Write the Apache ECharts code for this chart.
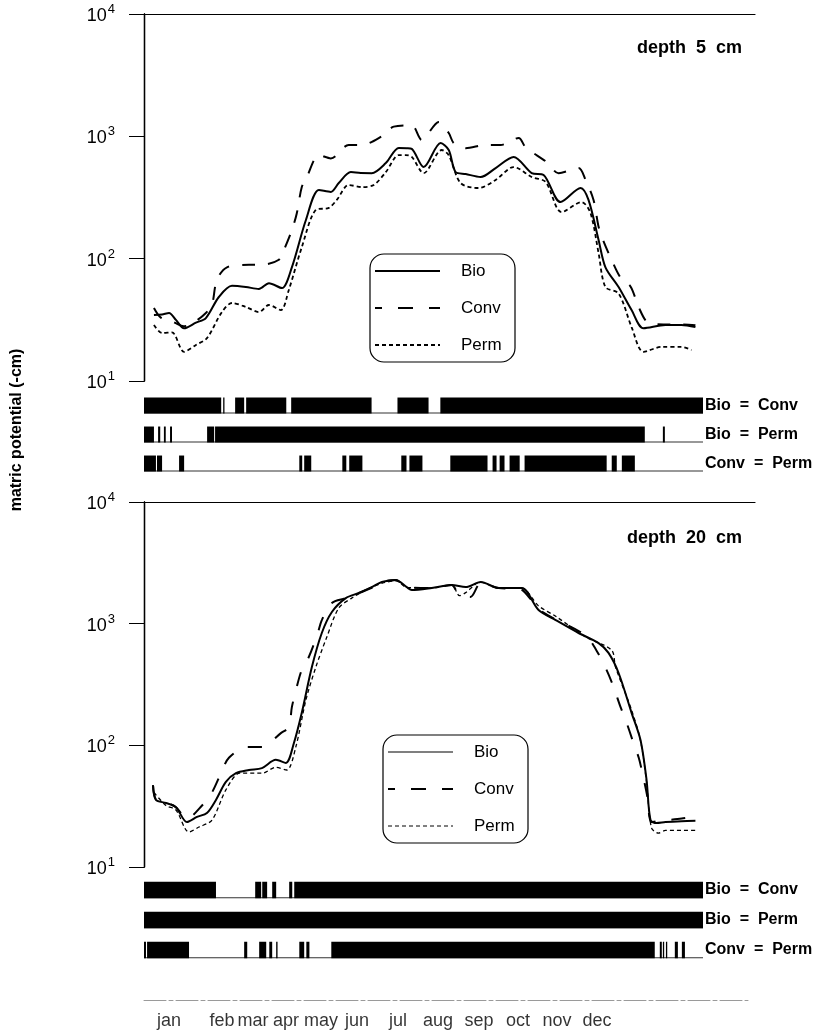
<!DOCTYPE html>
<html><head><meta charset="utf-8">
<script src="https://cdn.jsdelivr.net/npm/echarts@6/dist/echarts.min.js"></script>
<style>html,body{margin:0;padding:0;background:#fff}#c{width:825px;height:1033px}</style>
</head><body><div id="c"></div>
<script>
// ---- data: x = day of year, y = matric potential (-cm) ----
const bio5 = [[6.5,34.6],[11.8,35],[16.4,36],[20.9,31.6],[26.2,27],[34,30],[40.5,32.7],[49,48.6],[57.6,60],[66.7,58.7],[75.2,56.5],[81.8,63],[90.3,57.5],[96.8,85],[106,207],[114.5,364],[122.3,351],[127.5,415],[135.4,510],[141.9,501],[149.1,500],[158.3,605],[166.8,803],[172,800],[175.3,790],[183.1,561],[194.2,881],[199.5,773],[204,511],[210.6,492],[220.4,465],[230.2,550],[242,678],[253.8,501],[261.6,483],[272.7,290],[285.8,378],[291,302],[297.6,142],[302.1,85],[310.7,58.6],[319.2,38],[327,27],[341.4,28.7],[351.9,28.7],[361,27.6]];
const conv5 = [[6.5,39.5],[11,33],[20,30],[26,28],[34,31],[40.5,36],[44.5,42],[47.7,67],[54.3,85],[68.7,89],[77.2,89],[88.3,98],[91.6,118],[96.8,171],[100,234],[103.3,385],[106.6,465],[114.5,703],[122.3,660],[134,850],[142.5,850],[155.6,1000],[163.5,1200],[175.3,1230],[181.8,935],[193,1310],[199.5,1065],[202.8,880],[210.6,800],[223.8,850],[233.5,850],[245.3,970],[249.9,810],[263.6,617],[271.4,500],[284.5,550],[289.1,440],[294.3,302],[297.6,182],[300.5,142],[306.1,98],[312,70],[318.6,59],[323.9,40],[330,30],[340,29],[352,29],[361,28.5]];
const perm5 = [[6.5,28.7],[11.8,24.7],[18.3,25],[26.2,17.3],[34,19.7],[41.2,22.4],[51,36.6],[57.6,43.4],[66.7,40.3],[75.2,36.6],[81.8,41.8],[89.6,38],[94.8,55.5],[103.3,124],[112.5,250],[121,260],[126.2,302],[134,400],[142.6,385],[150.4,400],[158.3,510],[166.8,703],[171.4,703],[175.3,680],[183.1,500],[194.9,773],[199.5,700],[207.3,415],[219.1,378],[230.2,440],[242,561],[253.8,465],[262.9,424],[273.4,240],[286.5,290],[292.3,236],[297.6,111],[302.1,58.6],[310.7,52],[319.2,27.6],[327,17.3],[338.8,19],[351.9,19],[358.4,17.9]];

const bio20 = [[5.9,47],[7.8,35.6],[14.4,33.6],[20.9,31],[28.1,23.4],[34.7,25.8],[41.2,27.8],[47.1,35.6],[53.6,50],[60.2,59],[68.7,62.7],[77.2,65],[86.3,76],[92.9,71.6],[98.1,104],[103.3,185],[109.9,440],[116.4,838],[123,1247],[132.1,1622],[140.6,1786],[149.1,1995],[155.7,2197],[164.8,2285],[172,1995],[175.3,1890],[188.4,1965],[201.4,2080],[210.6,2000],[220.4,2197],[232.2,1965],[247.2,1965],[258.3,1295],[269.5,1070],[284.5,838],[297.6,693],[304.1,575],[310.7,393],[319.2,185],[325,111],[329,52],[331.6,24.3],[335.5,23],[341.4,23.4],[351.9,23.8],[361,24]];
const conv20 = [[5.9,47],[7.8,36],[14.4,34],[20.9,31],[28.1,25],[38,32],[44.5,41],[50.4,59],[55.6,79],[67.4,97],[77.2,97],[89.6,126],[94.8,141],[96.8,206],[100,302],[103.3,417],[107.9,532],[113.8,838],[116.4,1070],[123,1480],[132.1,1620],[141,1790],[150,1995],[156,2197],[165,2285],[172,1995],[188,1965],[201.4,2080],[205.3,1820],[213.8,1660],[220.4,2150],[232.2,1965],[247,1900],[251.8,1660],[260.3,1260],[289.1,800],[296.3,600],[302.8,417],[307.4,302],[312,206],[315.3,162],[320.5,104],[323.9,79],[326.3,59],[329.5,38],[332.2,23.4],[338,24],[352,25],[361,26]];
const perm20 = [[6.5,41],[14.4,32],[20.9,29.4],[29.4,19.4],[36,21.3],[44.5,24.3],[53.6,43],[62.8,59],[77.2,59],[86.3,66],[93.5,62.7],[99.4,97],[106,236],[112.5,440],[119.7,777],[127.5,1346],[136,1622],[145.2,1890],[156,2150],[165,2250],[172,1990],[188,1965],[201.4,2080],[206.6,1700],[210.6,1800],[220.4,2197],[232.2,1965],[247,1965],[258.3,1400],[269.5,1150],[289.1,777],[306.1,606],[308.7,440],[319.2,195],[325,110],[329,50],[332.2,21],[336.8,19],[341.4,20],[361,20]];

// significance rows: periods (start day, end day) where the pair is NOT different
const sigRows = ['Bio  =  Conv', 'Bio  =  Perm', 'Conv  =  Perm'];
const sig5BioConv = [[0,50.4],[51.7,52.3],[59.5,65.4],[66.7,92.9],[96.1,148.6],[165.5,185.8],[193.5,365]];
const sig5BioPerm = [[0,6.5],[9.2,10.6],[13,14.2],[17,18.3],[41.2,45.8],[46.4,327],[338.8,340.1]];
const sig5ConvPerm = [[0,7.8],[8.5,11.8],[22.9,26.2],[101.4,103.3],[104.6,109.2],[129.5,132.1],[134,142.6],[168,171.4],[173.3,181.8],[200,224.3],[227.6,230.2],[232.2,235.4],[238.7,245.3],[248.5,302.1],[305.4,308.7],[312,320.5]];
const sig20BioConv = [[0,47],[72.6,76.5],[77.2,80.4],[83.7,86.3],[94.8,96.8],[98.1,365]];
const sig20BioPerm = [[0,365]];
const sig20ConvPerm = [[0,1.3],[2,29.4],[65.4,67.4],[75.2,79.8],[81.8,83.7],[86.3,87.2],[101.4,104.6],[106,108],[122.3,333.5],[336.8,338.1],[338.8,339.5],[340.8,341.6],[346.6,348.6],[351.2,353.2]];

const months = ['jan','feb','mar','apr','may','jun','jul','aug','sep','oct','nov','dec'];
const monthPos = [16.4,51.1,71.4,93,115.9,139.4,166.3,192.5,219.3,244.8,270.4,296.6];

const FONT = 'Liberation Sans, Arial, Helvetica, sans-serif';

function toSeg(rows){ const out=[]; rows.forEach((r,i)=>r.forEach(s=>out.push([i,s[0],s[1]]))); return out; }
const segs5 = toSeg([sig5BioConv, sig5BioPerm, sig5ConvPerm]);
const segs20 = toSeg([sig20BioConv, sig20BioPerm, sig20ConvPerm]);
const baseRows = sigRows.map((r,i)=>[i,0,365]);

function renderSeg(params, api){
  const row = api.value(0), s = api.value(1), e = api.value(2);
  const p0 = api.coord([s,row]), p1 = api.coord([e,row]);
  const h = api.size([0,1])[1]*0.55;
  return {type:'rect', shape:{x:p0[0], y:p0[1]-h/2, width:Math.max(p1[0]-p0[0],1.3), height:h}, style:{fill:'#000'}};
}
function renderBase(params, api){
  const row = api.value(0), s = api.value(1), e = api.value(2);
  const p0 = api.coord([s,row]), p1 = api.coord([e,row]);
  const h = api.size([0,1])[1]*0.55;
  return {type:'rect', shape:{x:p0[0], y:p0[1]+h/2-1, width:p1[0]-p0[0], height:1}, style:{fill:'#333'}};
}

function logAxisLeft(grid){
  return {type:'log', logBase:10, gridIndex:grid, min:10, max:10000, position:'left',
    axisLine:{show:true, lineStyle:{color:'#000', width:1.3}},
    axisTick:{show:true, inside:false, length:15, lineStyle:{color:'#000', width:1}},
    minorTick:{show:false}, splitLine:{show:false},
    axisLabel:{margin:29, formatter:v=>'{b|10}{s|'+Math.round(Math.log10(v))+'}',
      rich:{b:{fontSize:18, fontFamily:FONT, color:'#000', verticalAlign:'bottom'},
            s:{fontSize:13, fontFamily:FONT, color:'#000', verticalAlign:'bottom', padding:[0,0,9,1]}}}};
}
function logAxisRight(grid){
  return {type:'log', logBase:10, gridIndex:grid, min:10, max:10000, position:'right',
    axisLine:{show:true, lineStyle:{color:'#000', width:1.3}}, axisTick:{show:false}, axisLabel:{show:false}, splitLine:{show:false}};
}
function catAxis(grid){
  return {type:'category', gridIndex:grid, data:sigRows, inverse:true, position:'right',
    axisLine:{show:false}, axisTick:{show:false}, splitLine:{show:false},
    axisLabel:{margin:2, color:'#000', fontSize:16, fontWeight:'bold', fontFamily:FONT, align:'left'}};
}
function hiddenX(grid,max){ return {type:'value', gridIndex:grid, min:0, max:max, show:false}; }
function topX(grid){ return {type:'value', gridIndex:grid, min:0, max:400, position:'top',
  axisLine:{show:true, onZero:false, lineStyle:{color:'#000', width:1.2}}, axisTick:{show:false}, axisLabel:{show:false}, splitLine:{show:false}}; }

function lineSeries(data, xi, yi, type, width){
  return {type:'line', data:data, xAxisIndex:xi, yAxisIndex:yi, symbol:'none', smooth:0.3, z:3,
    lineStyle:{color:'#000', width:width, type:type}};
}

function legendGroup(x, y, bioW, permW){
  const rows = [['Bio','solid',bioW],['Conv',[15,16],2],['Perm',[4,3],permW]];
  const ch = [];
  ch.push({type:'rect', shape:{x:x, y:y, width:145, height:108, r:14}, style:{fill:'#fff', stroke:'#000', lineWidth:1.2}});
  rows.forEach((r,i)=>{
    const yy = y + 17 + i*37;
    ch.push({type:'line', shape:{x1:x+5, y1:yy, x2:x+70, y2:yy},
      style:{stroke:'#000', lineWidth:r[2], lineDash: r[1]==='solid'?null:r[1], lineDashOffset: i===1?8:0}});
    ch.push({type:'text', x:x+91, y:yy, style:{text:r[0], fill:'#000', fontSize:17, fontFamily:FONT, verticalAlign:'middle', align:'left'}});
  });
  return {type:'group', children:ch, z:50};
}

const chart = echarts.init(document.getElementById('c'), null, {renderer:'canvas'});
chart.setOption({
  backgroundColor:'#fff',
  animation:false,
  grid:[
    {left:144, top:14, width:611, height:367},
    {left:144, top:391, width:559, height:87},
    {left:144, top:502, width:611, height:365},
    {left:144, top:875, width:559, height:90},
    {left:144, top:1000, width:604, height:30}
  ],
  xAxis:[
    hiddenX(0,400), topX(0), hiddenX(1,365), hiddenX(2,400), topX(2), hiddenX(3,365),
    {type:'value', gridIndex:4, min:0, max:395.4, position:'top',
     axisLine:{show:true, onZero:false, lineStyle:{color:'#9a9a9a', width:1, type:[22,3,4,3]}}, axisTick:{show:false}, axisLabel:{show:false}, splitLine:{show:false}}
  ],
  yAxis:[
    logAxisLeft(0), logAxisRight(0), catAxis(1), logAxisLeft(2), logAxisRight(2), catAxis(3),
    {type:'value', gridIndex:4, min:0, max:1, show:false}
  ],
  series:[
    lineSeries(perm5,0,0,[4,3],1.8),
    lineSeries(conv5,0,0,[13,13],2),
    lineSeries(bio5,0,0,'solid',2),
    lineSeries(perm20,3,3,[4,3],1.3),
    lineSeries(conv20,3,3,[14,16],2),
    lineSeries(bio20,3,3,'solid',2),
    {type:'custom', xAxisIndex:2, yAxisIndex:2, renderItem:renderBase, data:baseRows, encode:{x:[1,2], y:0}, clip:false},
    {type:'custom', xAxisIndex:2, yAxisIndex:2, renderItem:renderSeg, data:segs5, encode:{x:[1,2], y:0}, clip:false},
    {type:'custom', xAxisIndex:5, yAxisIndex:5, renderItem:renderBase, data:baseRows, encode:{x:[1,2], y:0}, clip:false},
    {type:'custom', xAxisIndex:5, yAxisIndex:5, renderItem:renderSeg, data:segs20, encode:{x:[1,2], y:0}, clip:false},
    {type:'scatter', xAxisIndex:6, yAxisIndex:6, symbolSize:0, itemStyle:{color:'rgba(0,0,0,0)'},
     data: months.map((m,i)=>({name:m, value:[monthPos[i], 0.3]})),
     label:{show:true, position:'inside', formatter:'{b}', color:'#000', fontSize:18, fontFamily:FONT}}
  ],
  graphic:[
    legendGroup(370, 254, 2, 1.8),
    legendGroup(383, 735, 1.2, 1),
    {type:'text', x:742, y:48, style:{text:'depth  5  cm', fill:'#000', fontSize:18, fontWeight:'bold', fontFamily:FONT, align:'right', verticalAlign:'middle'}},
    {type:'text', x:742, y:538, style:{text:'depth  20  cm', fill:'#000', fontSize:18, fontWeight:'bold', fontFamily:FONT, align:'right', verticalAlign:'middle'}},
    {type:'text', x:17, y:430, rotation:Math.PI/2, style:{text:'matric potential (-cm)', fill:'#000', fontSize:16, fontWeight:'bold', fontFamily:FONT, align:'center', verticalAlign:'middle'}}
  ]
});
</script></body></html>
